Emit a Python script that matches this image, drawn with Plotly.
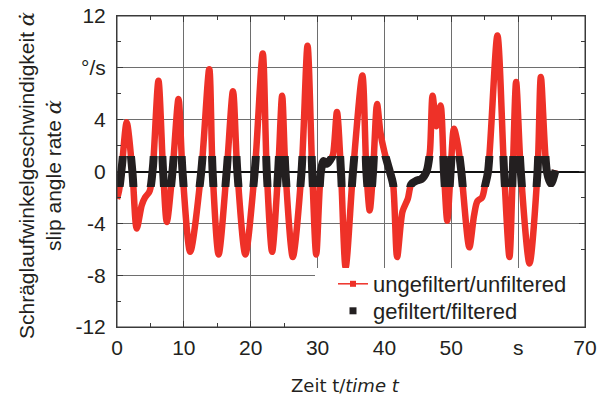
import plotly.graph_objects as go

# ---- data ----
time_s = [0.0, 0.3, 0.75, 1.45, 2.3, 2.95, 3.7, 4.2, 4.8, 5.0, 5.4, 6.2, 6.9, 7.45,
          8.3, 9.2, 9.8, 10.95, 12.6, 13.8, 14.3, 15.2, 16.4, 17.35, 18.0, 19.2,
          20.6, 21.8, 22.4, 23.2, 24.1, 24.7, 25.2, 26.3, 27.6, 28.5, 29.2, 29.8,
          30.5, 30.9, 31.4, 31.9, 32.3, 32.9, 33.5, 34.2, 35.3, 36.7, 37.3, 37.8,
          38.3, 38.9, 39.4, 40.0, 40.8, 41.3, 41.9, 42.7, 43.5, 44.0, 44.8, 45.5,
          46.3, 46.8, 47.2, 47.8, 48.4, 48.9, 49.4, 49.9, 50.4, 51.0, 51.5, 52.7,
          53.4, 53.9, 54.6, 55.0, 55.5, 56.9, 57.9, 58.7, 59.2, 59.7, 60.4, 61.7,
          62.9, 63.4, 64.3, 64.9, 65.6]
slip_rate = [-2.1, -1.5, 0.5, 3.8, 0.0, -4.4, -2.6, -2.0, -1.6, -1.3, 0.5, 7.0, 0.0, -3.9,
             0.0, 5.6, 0.0, -6.2, 0.0, 7.9, 0.0, -6.4, 0.0, 6.2, 0.0, -6.4,
             0.0, 9.1, 0.0, -6.2, 0.0, 5.85, 0.0, -6.6, 0.0, 9.7, 0.0, -6.4,
             0.0, 0.8, 0.6, 0.9, 1.3, 4.6, 0.0, -7.4, 0.0, 7.4, 0.0, -3.0,
             0.0, 5.2, 3.0, 1.5, 0.0, -1.0, -6.6, -3.1, -2.1, -1.0, -0.7, -0.6,
             0.0, 1.5, 5.85, 3.5, 5.1, 0.0, -3.8, 0.0, 3.3, 2.0, 0.0, -5.85,
             -3.4, -2.3, -2.0, -1.2, 0.0, 10.5, 0.0, -6.6, 0.0, 6.9, 0.0, -7.1,
             0.0, 7.3, 0.0, -0.95, 0.1]
filter_band = [-1.2, 1.2]   # band in which the filtered signal is kept

x_tickvals = [0, 10, 20, 30, 40, 50, 60, 70]
x_ticktext = ["0", "10", "20", "30", "40", "50", "s", "70"]
y_tickvals = [-12, -8, -4, 0, 4, 8, 12]
y_ticktext = ["-12", "-8", "-4", "0", "4", "°/s", "12"]

RED = "#EE3128"
BLACK = "#231F20"
FONT = "Liberation Sans, Arial, sans-serif"

fig = go.Figure()
fig.add_trace(go.Scatter(x=time_s, y=slip_rate, mode="lines",
                         line=dict(color=RED, width=6.5, shape="spline", smoothing=0.8),
                         showlegend=False, hoverinfo="skip"))
fig.add_trace(go.Scatter(x=time_s, y=slip_rate, mode="lines",
                         line=dict(color=BLACK, width=8, shape="spline", smoothing=0.8),
                         xaxis="x2", yaxis="y2", showlegend=False, hoverinfo="skip"))
fig.add_trace(go.Scatter(x=[None], y=[None], mode="lines+markers", name="ungefiltert/unfiltered",
                         line=dict(color=RED, width=1.5), legend="legend",
                         marker=dict(symbol="square", size=6, color=RED)))
fig.add_trace(go.Scatter(x=[None], y=[None], mode="markers", name="gefiltert/filtered",
                         legend="legend2",
                         marker=dict(symbol="square", size=7, color=BLACK)))

W, H = 603, 396
L, R, T, B = 117, 18, 16, 69
pw, ph = W - L - R, H - T - B

lo, hi = filter_band
axis_common = dict(showline=True, linecolor="#3a3a3a", linewidth=1, mirror="ticks",
                   ticks="inside", ticklen=6, tickcolor="#3a3a3a", automargin=False,
                   showgrid=True, gridcolor="#6e6e6e", gridwidth=1,
                   tickfont=dict(family=FONT, size=21, color="#231F20"))

legend_common = dict(x=(333 - L) / pw, xanchor="left", yanchor="top",
                     bgcolor="rgba(0,0,0,0)", borderwidth=0,
                     font=dict(family=FONT, size=22, color="#231F20"))

ALPHA_DOT = "<span style='font-family:DejaVu Serif'><i>\u03b1\u0307</i></span>"

fig.update_layout(
    width=W, height=H,
    margin=dict(l=L, r=R, t=T, b=B, autoexpand=False),
    paper_bgcolor="white", plot_bgcolor="rgba(0,0,0,0)",
    font=dict(family=FONT, size=21, color="#231F20"),
    xaxis=dict(range=[0, 70], tickmode="array", tickvals=x_tickvals, ticktext=x_ticktext,
               zeroline=False, ticklabelstandoff=2,
               minor=dict(dtick=5, ticks="inside", ticklen=4, tickcolor="#3a3a3a", showgrid=False),
               **axis_common),
    yaxis=dict(range=[-12, 12], tickmode="array", tickvals=y_tickvals, ticktext=y_ticktext,
               zeroline=True, zerolinecolor="#111111", zerolinewidth=1.5, ticklabelstandoff=6,
               minor=dict(dtick=2, ticks="inside", ticklen=4, tickcolor="#3a3a3a", showgrid=False),
               **axis_common),
    xaxis2=dict(range=[0, 70], domain=[0, 1], anchor="y2", visible=False),
    yaxis2=dict(range=[lo, hi], domain=[0.5 + lo / 24, 0.5 + hi / 24], anchor="x2", visible=False),
    legend=dict(y=(T + ph - 263) / ph, **legend_common),
    legend2=dict(y=(T + ph - 290) / ph, **legend_common),
    shapes=[
        dict(type="rect", xref="paper", yref="paper", x0=(315 - L) / pw, x1=1,
             y0=0, y1=(T + ph - 268) / ph, fillcolor="white", line=dict(width=0), layer="above"),
        dict(type="rect", xref="paper", yref="paper", x0=0, x1=1, y0=0, y1=1,
             line=dict(color="#3a3a3a", width=1), layer="above"),
    ],
    annotations=[
        dict(text="Schräglaufwinkelgeschwindigkeit " + ALPHA_DOT + "<br>slip angle rate " + ALPHA_DOT,
             xref="paper", yref="paper", x=(40 - L) / pw, y=(T + ph - 176) / ph,
             xanchor="center", yanchor="middle", textangle=-90, showarrow=False,
             font=dict(family=FONT, size=21, color="#231F20")),
        dict(text="Zeit t/<i>time t</i>", xref="paper", yref="paper",
             x=(345 - L) / pw, y=(T + ph - 385) / ph, xanchor="center", yanchor="middle",
             showarrow=False, font=dict(family="DejaVu Sans", size=18, color="#231F20")),
    ],
)

fig.write_html("out.html")
